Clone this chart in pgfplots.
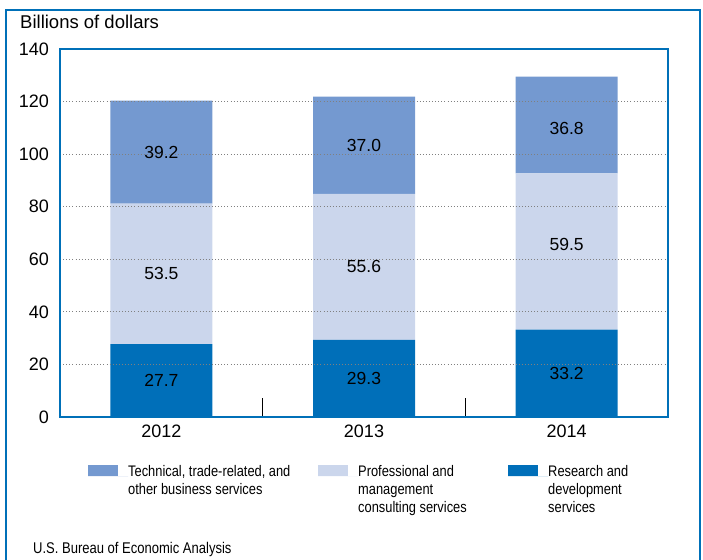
\documentclass[border=0pt]{standalone}
\usepackage{pgfplots}
\pgfplotsset{compat=1.18}
\usepackage{pgfplotstable}
\usepackage{fontspec}
\setmainfont{Liberation Sans}
\newfontfamily\narrowfont[FakeStretch=0.84]{Liberation Sans}

\definecolor{beablue}{HTML}{0070B8}
\definecolor{techc}{HTML}{7499D0}
\definecolor{profc}{HTML}{CBD6EC}
\definecolor{rdc}{HTML}{006FB9}

% billions of dollars, by year
\pgfplotstableread{
x   rd    prof  tech
0   27.7  53.5  39.2
1   29.3  55.6  37.0
2   33.2  59.5  36.8
}\services

% label positions (about the middle of each segment)
\pgfplotstableread{
x   ymid    lab
0   13.85   27.7
0   54.45   53.5
0   100.8   39.2
1   14.65   29.3
1   57.1    55.6
1   103.4   37.0
2   16.6    33.2
2   65.5    59.5
2   109.8   36.8
}\seglabels

\pgfplotsset{panel/.style={
    at={(60bp,143bp)}, anchor=south west,
    scale only axis, width=608bp, height=368bp,
    xmin=-0.5, xmax=2.5, ymin=0, ymax=140}}

\begin{document}
\begin{tikzpicture}
\path[use as bounding box] (0,0) rectangle (703bp,560bp);
\begin{axis}[
    panel,
    ybar stacked, bar width=102bp,
    xtick={0,1,2}, xticklabels={2012,2013,2014},
    minor xtick={0.5,1.5},
    ytick={0,20,...,140},
    major tick length=0pt, minor tick length=19bp,
    tick pos=left, tick align=inside,
    minor tick style={black, line width=0.8bp},
    ymajorgrids,
    grid style={gray, line width=0.9bp, dash pattern=on 0.9bp off 2.2bp},
    axis on top,
    axis line style={beablue, line width=2.5bp},
    /pgf/number format/assume math mode=true,
    ticklabel style={font=\fontsize{18bp}{20bp}\selectfont, inner sep=0pt},
    yticklabel style={anchor=east, xshift=-11bp},
    xticklabel style={anchor=north, yshift=-8bp},
    swatch/.style={legend image code/.code={
        \fill[##1] (0bp,0bp) rectangle (30bp,11bp);
        \path (0bp,0bp) -- (40bp,0bp);}},
    legend style={draw=none, fill=none, inner sep=0pt,
        legend columns=3, column sep=0pt,
        at={(0.0461,-0.1304)}, anchor=north west,
        font=\narrowfont\fontsize{15.3bp}{18bp}\selectfont,
        nodes={inner sep=0pt, anchor=base west},
        cells={anchor=base west}},
]
\addplot[forget plot, fill=rdc, draw=none] table[x=x, y=rd] {\services};
\addplot[forget plot, fill=profc, draw=none] table[x=x, y=prof] {\services};
\addplot[forget plot, fill=techc, draw=none] table[x=x, y=tech] {\services};

\addlegendimage{swatch, fill=techc, draw=none}
\addlegendentry{\parbox[t]{190bp}{\raggedright Technical, trade-related, and\\other business services}}
\addlegendimage{swatch, fill=profc, draw=none}
\addlegendentry{\parbox[t]{150bp}{\raggedright Professional and\\management\\consulting services}}
\addlegendimage{swatch, fill=rdc, draw=none}
\addlegendentry{\parbox[t]{100bp}{\raggedright Research and\\development\\services}}
\end{axis}
% segment values, on an overlaid axis with the same frame
\begin{axis}[panel, hide axis]
\addplot[only marks, mark=none, draw=none,
    nodes near coords, point meta=explicit symbolic,
    every node near coord/.style={anchor=center, inner sep=0pt, text=black,
        font=\fontsize{17.5bp}{20bp}\selectfont}]
    table[x=x, y=ymid, meta=lab] {\seglabels};
\end{axis}
% outer frame of the panel
\draw[beablue, line width=2.5bp] (6bp,-5bp) -- (6bp,550bp) -- (700bp,550bp) -- (700bp,-5bp);
\node[anchor=base west, inner sep=0pt, font=\fontsize{18.5bp}{20bp}\selectfont]
    at (20bp,531.5bp) {Billions of dollars};
\node[anchor=base west, inner sep=0pt, font=\narrowfont\fontsize{15.5bp}{18bp}\selectfont]
    at (33bp,7bp) {U.S. Bureau of Economic Analysis};
\end{tikzpicture}
\end{document}
